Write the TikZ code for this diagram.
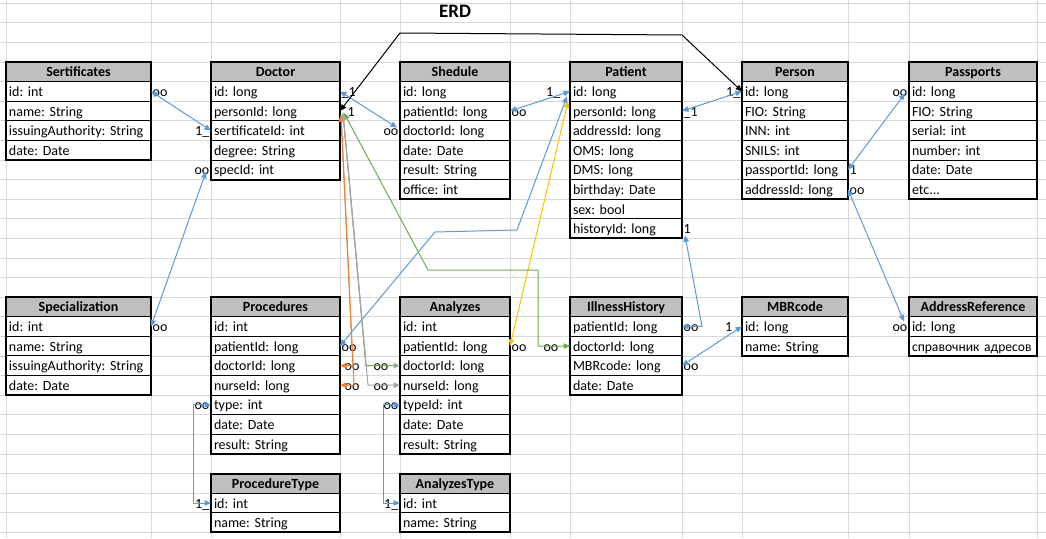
\documentclass[tikz,border=0pt]{standalone}
\usepackage{fontspec}
\setmainfont{Carlito}
\usetikzlibrary{arrows.meta,calc}
\frenchspacing

\definecolor{gridc}{HTML}{D9D9D9}
\definecolor{hdrc}{HTML}{BFBFBF}
\definecolor{bluec}{HTML}{5B9BD5}
\definecolor{orangec}{HTML}{ED7D31}
\definecolor{grayc}{HTML}{A5A5A5}
\definecolor{yellowc}{HTML}{FFC000}
\definecolor{greenc}{HTML}{70AD47}

\newcommand{\etcdots}{etc...}
\newcommand{\addrtext}{\mbox{\fontsize{13.6}{15}\selectfont справочник адресов}}

% #1 name, #2 x, #3 y (top), #4 width, #5 number of rows, #6 title, #7 rows
\newcommand{\erdtable}[7]{%
  \pgfmathsetmacro{\erdtw}{#4-6}%
  \node[hdrcell, minimum width=#4pt, text width=\erdtw pt] (#1-0) at (#2,#3) {#6};
  \foreach \r [count=\i] in {#7} {
    \node[rowcell, minimum width=#4pt, text width=\erdtw pt] (#1-\i) at (#2,#3+\i*19.6) {\r};
  }
  \draw[hdrline] (#1-0.south west) -- (#1-0.south east);
  \draw[outerline] (#1-0.north west) rectangle (#1-#5.south east);
}

\begin{document}
\begin{tikzpicture}[x=1pt,y=-1pt,
  >={Triangle[length=6.5pt,width=5.5pt]},
  gridline/.style={draw=gridc, line width=0.8pt},
  cellbase/.style={draw=black, line width=0.8pt, anchor=north west,
    minimum height=19.6pt, inner xsep=3pt, inner ysep=0pt, outer sep=0pt,
    text height=12pt, text depth=2pt},
  rowcell/.style={cellbase, fill=white, align=left, font=\fontsize{14}{15}\selectfont},
  hdrcell/.style={cellbase, fill=hdrc, align=center, font=\bfseries\fontsize{14}{15}\selectfont},
  hdrline/.style={line width=1.4pt},
  outerline/.style={line width=2pt},
  lbl/.style={inner xsep=1.5pt, inner ysep=0pt, minimum height=19.6pt,
    text height=12pt, text depth=2pt, font=\fontsize{14}{15}\selectfont},
  lblR/.style={lbl, anchor=west},
  lblL/.style={lbl, anchor=east},
  conn/.style={line width=1pt, <->},
]
\useasboundingbox (0,0) rectangle (1046,538);
\fill[white] (0,0) rectangle (1046,538);

% spreadsheet grid
\foreach \k in {-3,...,24} \draw[gridline] (0,62+\k*19.6) -- (1046,62+\k*19.6);
\foreach \x in {6,151,211,340,400,510,570,682,742,848,909,1037} \draw[gridline] (\x,0) -- (\x,538);

% title
\node[anchor=base, font=\bfseries\fontsize{19}{21}\selectfont] (title) at (455,17.3) {ERD};

% tables
\erdtable{sert}{6}{62}{145}{4}{Sertificates}{id: int, name: String, issuingAuthority: String, date: Date}
\erdtable{doc}{211}{62}{129}{5}{Doctor}{id: long, personId: long, sertificateId: int, degree: String, specId: int}
\erdtable{shed}{400}{62}{110}{6}{Shedule}{id: long, patientId: long, doctorId: long, date: Date, result: String, office: int}
\erdtable{pat}{570}{62}{112}{8}{Patient}{id: long, personId: long, addressId: long, OMS: long, DMS: long, birthday: Date, sex: bool, historyId: long}
\erdtable{pers}{742}{62}{106}{6}{Person}{id: long, FIO: String, INN: int, SNILS: int, passportId: long, addressId: long}
\erdtable{pass}{909}{62}{128}{6}{Passports}{id: long, FIO: String, serial: int, number: int, date: Date, \etcdots}
\erdtable{spec}{6}{297}{145}{4}{Specialization}{id: int, name: String, issuingAuthority: String, date: Date}
\erdtable{proc}{211}{297}{129}{7}{Procedures}{id: int, patientId: long, doctorId: long, nurseId: long, type: int, date: Date, result: String}
\erdtable{ana}{400}{297}{110}{7}{Analyzes}{id: int, patientId: long, doctorId: long, nurseId: long, typeId: int, date: Date, result: String}
\erdtable{ill}{570}{297}{112}{4}{IllnessHistory}{patientId: long, doctorId: long, MBRcode: long, date: Date}
\erdtable{mbr}{742}{297}{106}{2}{MBRcode}{id: long, name: String}
\erdtable{addr}{909}{297}{128}{2}{AddressReference}{id: long, \addrtext}
\erdtable{ptype}{211}{473.6}{129}{2}{ProcedureType}{id: int, name: String}
\erdtable{atype}{400}{473.6}{110}{2}{AnalyzesType}{id: int, name: String}

% cardinality labels
\node[lblR] (l1) at (sert-1.east) {oo};
\node[lblL] (l2) at (doc-3.west) {1\_};
\node[lblR] (l3) at (spec-1.east) {oo};
\node[lblL] (l4) at (doc-5.west) {oo};
\node[lblR] (l5) at (doc-1.east) {\_1};
\node[lblL] (l6) at (shed-3.west) {oo};
\node[lblR] (l7) at ($(doc-2.east)+(6,0)$) {1};
\node[lblL] (l8) at (pers-1.west) {1\_};
\node[lblR] (l9) at (shed-2.east) {oo};
\node[lblL] (l10) at ($(pat-1.west)+(-8,0)$) {1\_};
\node[lblR] (l11) at (pat-2.east) {\_1};
\node[lblR] (l12) at (pers-5.east) {1};
\node[lblL] (l13) at (pass-1.west) {oo};
\node[lblR] (l14) at (pers-6.east) {oo};
\node[lblL] (l15) at (addr-1.west) {oo};
\node[lblR] (l16) at (pat-8.east) {1};
\node[lblR] (l17) at (ill-1.east) {oo};
\node[lblR] (l18) at (ill-3.east) {oo};
\node[lblL] (l19) at ($(mbr-1.west)+(-8,0)$) {1};
\node[lblL] (l20) at (proc-5.west) {oo};
\node[lblL] (l21) at (ptype-1.west) {1\_};
\node[lblL] (l22) at (ana-5.west) {oo};
\node[lblL] (l23) at (atype-1.west) {1\_};
\node[lblR] (l24) at (proc-2.east) {oo};
\node[lblR] (l25) at ($(proc-3.east)+(3,0)$) {oo};
\node[lblR] (l26) at ($(proc-4.east)+(3,0)$) {oo};
\node[lblL] (l27) at ($(ana-3.west)+(-10,0)$) {oo};
\node[lblL] (l28) at ($(ana-4.west)+(-10,0)$) {oo};
\node[lblR] (l29) at (ana-2.east) {oo};
\node[lblL] (l30) at ($(ill-2.west)+(-10,0)$) {oo};

% connectors
\draw[conn, bluec] (sert-1.east) -- (doc-3.west);
\draw[conn, bluec] (spec-1.east) -- ($(doc-5.west)+(-5,2)$);
\draw[conn, bluec] (doc-1.east) -- ($(shed-3.west)+(-3,-3)$);
\draw[conn, bluec] (shed-2.east) -- (pat-1.west);
\draw[conn, bluec] (pat-2.east) -- (pers-1.west);
\draw[conn, bluec] (pers-5.east) -- ($(pass-1.west)+(-4,2)$);
\draw[conn, bluec] (pers-6.east) -- ($(addr-1.west)+(-5,-5)$);
\draw[conn, bluec] ($(pat-8.south east)+(3,-3)$) -- (702,326.4) -- (ill-1.east);
\draw[conn, bluec] (ill-3.east) -- (mbr-1.west);
\draw[conn, bluec] (proc-5.west) -- ++(-18,0) |- (ptype-1.west);
\draw[conn, bluec] (ana-5.west) -- ++(-17,0) |- (atype-1.west);
\draw[conn, bluec] (proc-2.east) -- (435,232) -- (517,230) -- ($(pat-1.west)+(-3,5)$);
\draw[conn, yellowc] (ana-2.east) -- ($(pat-1.south west)+(-2,0)$);
\draw[conn, greenc] ($(doc-2.east)+(4,2)$) -- (428,270) -- (538,270) -- (538,346) -- (ill-2.west);
\draw[conn, orangec] ($(doc-2.east)+(1,4)$) -- (353,365.6) -- (proc-3.east);
\draw[conn, orangec] ($(doc-2.east)+(1,4)$) -- (354,385.2) -- (proc-4.east);
\draw[line width=1pt, greenc, {Triangle[length=6.5pt,width=5.5pt]}-{Triangle[length=6.5pt,width=5.5pt,color=grayc]}] ($(doc-2.east)+(3,2)$) -- (366,365.6) -- (ana-3.west);
\draw[conn, grayc] ($(doc-2.east)+(3,2)$) -- (368,385.2) -- (ana-4.west);
\draw[line width=1pt, grayc] ($(doc-2.east)+(3,2)$) -- (366,365.6);
\draw[conn, black] (doc-2.east) -- (400,33) -- (682,35) -- (pers-1.west);
\end{tikzpicture}
\end{document}
